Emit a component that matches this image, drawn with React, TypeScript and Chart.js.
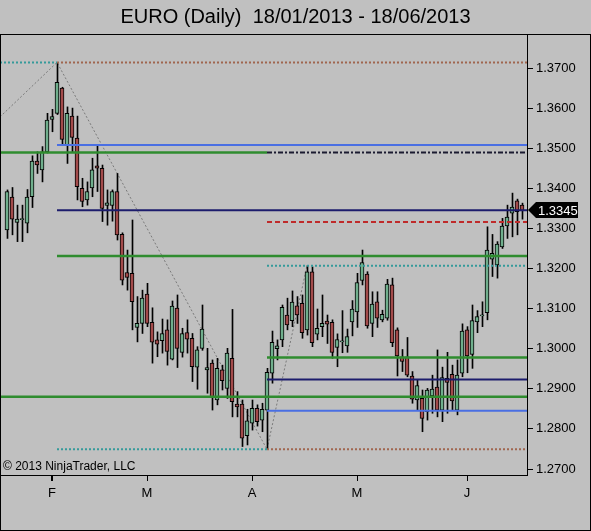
import React, { useEffect, useRef } from "react";
import { Chart, registerables } from "chart.js";

Chart.register(...registerables);

const chartTitle = "EURO (Daily)  18/01/2013 - 18/06/2013";
const copyrightText = "© 2013 NinjaTrader, LLC";

const monthTickIndex = [9, 28, 49, 70, 92];
const monthTickLabels = ["F", "M", "A", "M", "J"];
const priceTicks = [1.27, 1.28, 1.29, 1.3, 1.31, 1.32, 1.33, 1.34, 1.35, 1.36, 1.37];

const opens = [
  1.3296, 1.3378, 1.3315, 1.3322, 1.3313, 1.3379, 1.3468, 1.3446, 1.3491, 1.3572,
  1.3587, 1.365, 1.3508, 1.358, 1.3525, 1.34, 1.3371, 1.3401, 1.3456, 1.345,
  1.3357, 1.3357, 1.3392, 1.3285, 1.319, 1.3188, 1.3053, 1.3063, 1.3136, 1.3066,
  1.3022, 1.302, 1.3047, 1.2974, 1.3101, 1.2991, 1.304, 1.3026, 1.2954, 1.3001,
  1.2947, 1.2964, 1.2872, 1.2947, 1.2901, 1.2976, 1.2862, 1.2862, 1.2783, 1.2814,
  1.2851, 1.2822, 1.2847, 1.2939, 1.3, 1.3022, 1.3084, 1.307, 1.3107, 1.3113,
  1.3047, 1.3192, 1.3036, 1.3055, 1.3069, 1.3066, 1.3003, 1.3017, 1.3007, 1.3067,
  1.3092, 1.317, 1.3186, 1.3063, 1.3117, 1.3072, 1.3076, 1.3159, 1.3047, 1.298,
  1.298, 1.2932, 1.2872, 1.2876, 1.2843, 1.2882, 1.2904, 1.2847, 1.2926, 1.2936,
  1.2847, 1.2939, 1.3047, 1.2986, 1.3067, 1.3082, 1.309, 1.3223, 1.3209, 1.3254,
  1.3306, 1.3338, 1.3369, 1.3358,
];
const highs = [
  1.3396, 1.3402, 1.3358, 1.3358, 1.3397, 1.3481, 1.3491, 1.3504, 1.3587, 1.3597,
  1.3714, 1.3652, 1.3603, 1.36, 1.358, 1.3425, 1.3416, 1.3475, 1.3508, 1.3458,
  1.3396, 1.3396, 1.3437, 1.3289, 1.3246, 1.3321, 1.313, 1.3146, 1.3163, 1.3102,
  1.3042, 1.3074, 1.3072, 1.3119, 1.3134, 1.3051, 1.3072, 1.3038, 1.3005, 1.3109,
  1.3001, 1.2972, 1.2976, 1.2959, 1.3001, 1.3098, 1.2893, 1.2872, 1.2849, 1.2872,
  1.286, 1.2864, 1.2951, 1.3044, 1.3022, 1.3109, 1.3126, 1.3144, 1.313, 1.3134,
  1.3207, 1.3204, 1.3099, 1.3134, 1.3084, 1.3072, 1.3037, 1.3095, 1.3049, 1.312,
  1.3188, 1.3246, 1.3192, 1.3142, 1.3142, 1.3096, 1.3173, 1.3176, 1.3052, 1.2998,
  1.3028, 1.2943, 1.2922, 1.2897, 1.2901, 1.2934, 1.2997, 1.2954, 1.2991, 1.2959,
  1.2972, 1.3062, 1.3055, 1.3109, 1.3095, 1.3117, 1.3304, 1.3285, 1.3267, 1.3325,
  1.3358, 1.3388, 1.3373, 1.3363,
];
const lows = [
  1.3275, 1.3284, 1.3267, 1.3267, 1.3289, 1.3352, 1.3437, 1.3416, 1.3488, 1.3541,
  1.3584, 1.3508, 1.3462, 1.3491, 1.3371, 1.3354, 1.3358, 1.3379, 1.3392, 1.3317,
  1.3308, 1.3318, 1.3271, 1.3159, 1.3146, 1.3047, 1.3017, 1.3038, 1.3055, 1.2964,
  1.298, 1.2989, 1.2959, 1.2972, 1.2953, 1.2979, 1.2989, 1.2918, 1.2899, 1.2996,
  1.2889, 1.2847, 1.286, 1.2897, 1.2876, 1.283, 1.283, 1.2756, 1.276, 1.2797,
  1.2807, 1.2793, 1.2749, 1.2914, 1.2972, 1.3005, 1.3047, 1.3055, 1.3063, 1.3026,
  1.3034, 1.3005, 1.3022, 1.303, 1.3013, 1.2976, 1.2955, 1.299, 1.2991, 1.3032,
  1.3053, 1.3159, 1.3051, 1.303, 1.3053, 1.3067, 1.3071, 1.3005, 1.2932, 1.2943,
  1.293, 1.2864, 1.2847, 1.2793, 1.2822, 1.2839, 1.283, 1.2818, 1.2839, 1.2847,
  1.2835, 1.293, 1.294, 1.2951, 1.304, 1.3055, 1.3072, 1.318, 1.3176, 1.325,
  1.3275, 1.3279, 1.3284, 1.3323,
];
const closes = [
  1.3392, 1.3323, 1.3323, 1.3323, 1.3378, 1.3468, 1.3458, 1.3491, 1.357, 1.3579,
  1.3664, 1.3522, 1.3587, 1.3527, 1.3404, 1.3367, 1.3392, 1.3446, 1.345, 1.335,
  1.3364, 1.3392, 1.3284, 1.3171, 1.3178, 1.3117, 1.3063, 1.3126, 1.3063, 1.3016,
  1.3011, 1.3038, 1.2993, 1.3106, 1.3001, 1.3038, 1.3024, 1.2955, 1.2997, 1.3049,
  1.2953, 1.288, 1.2951, 1.292, 1.2989, 1.2868, 1.2855, 1.2777, 1.282, 1.2851,
  1.2818, 1.2849, 1.2941, 1.3016, 1.3007, 1.3103, 1.3059, 1.3116, 1.3084, 1.304,
  1.3192, 1.3015, 1.3051, 1.3063, 1.3061, 1.2991, 1.3023, 1.3018, 1.303, 1.3099,
  1.3165, 1.3215, 1.3057, 1.3111, 1.3076, 1.3086, 1.3161, 1.3015, 1.2982, 1.2968,
  1.2934, 1.2874, 1.2908, 1.2826, 1.2897, 1.2899, 1.2847, 1.2928, 1.2916, 1.287,
  1.2934, 1.3044, 1.2982, 1.307, 1.308, 1.3083, 1.3246, 1.3238, 1.3261, 1.3306,
  1.3328, 1.3353, 1.3342, 1.3345,
];

// Horizontal levels drawn on the chart: price, first bar index, last bar index
const levelPrices = [1.3714, 1.3714, 1.3508, 1.3489, 1.3489, 1.3345, 1.3316, 1.3231, 1.3207, 1.2978, 1.2923, 1.288, 1.2845, 1.2749, 1.2749];
const levelFrom = [-1.4, 10, 10, -1.4, 52, 10, 52, 10, 52, 52, 52, -1.4, 52, 10, 52];
const levelTo = [10, 104, 104, 52, 104, 104, 104, 104, 104, 104, 104, 104, 104, 52, 104];

// Zig-zag swing line
const zigzagIndex = [-1.4, 10, 52, 60];
const zigzagPrice = [1.3578, 1.3714, 1.2749, 1.3207];

const FONT = "'Liberation Sans', Arial, sans-serif";
const TEAL = "#359a9a";
const BROWN = "#a0664f";
const BLUE = "#4a6fe3";
const NAVY = "#1c1c6c";
const GREEN = "#2f8c2f";
const RED = "#bf2a2a";
const levelStyles = [
  { color: TEAL, width: 2, dash: [2, 2] },
  { color: BROWN, width: 2, dash: [2, 2] },
  { color: BLUE, width: 2, dash: [] },
  { color: GREEN, width: 2.5, dash: [] },
  { color: "#1a1a30", width: 2, dash: [5, 2, 2, 2] },
  { color: NAVY, width: 2, dash: [] },
  { color: RED, width: 2, dash: [5, 3] },
  { color: GREEN, width: 2.5, dash: [] },
  { color: TEAL, width: 2, dash: [2, 2] },
  { color: GREEN, width: 2.5, dash: [] },
  { color: NAVY, width: 2, dash: [] },
  { color: GREEN, width: 2.5, dash: [] },
  { color: BLUE, width: 2, dash: [] },
  { color: TEAL, width: 2, dash: [2, 2] },
  { color: BROWN, width: 2, dash: [2, 2] },
];

const decorPlugin = {
  id: "decor",
  afterDraw(chart: any) {
    const { ctx, chartArea, scales } = chart;
    ctx.save();
    ctx.strokeStyle = "#000";
    ctx.lineWidth = 1;
    ctx.strokeRect(0.5, chartArea.top + 0.5, chart.width - 1, chart.height - chartArea.top - 1);
    // month tick marks under the time axis
    ctx.beginPath();
    monthTickIndex.forEach((v) => {
      const px = Math.round(scales.x.getPixelForValue(v)) + 0.5;
      ctx.moveTo(px, chartArea.bottom);
      ctx.lineTo(px, chartArea.bottom + 6);
    });
    ctx.stroke();
    ctx.font = `12px ${FONT}`;
    ctx.fillStyle = "#000";
    ctx.textAlign = "left";
    ctx.textBaseline = "middle";
    ctx.fillText(copyrightText, chartArea.left + 3, chartArea.bottom - 8);
    const last = closes[closes.length - 1];
    const y = Math.round(scales.y.getPixelForValue(last));
    const x0 = chartArea.right + 1;
    ctx.beginPath();
    ctx.moveTo(x0, y);
    ctx.lineTo(x0 + 8, y - 8);
    ctx.lineTo(x0 + 50, y - 8);
    ctx.lineTo(x0 + 50, y + 8);
    ctx.lineTo(x0 + 8, y + 8);
    ctx.closePath();
    ctx.fillStyle = "#000";
    ctx.fill();
    ctx.fillStyle = "#fff";
    ctx.font = `13px ${FONT}`;
    ctx.fillText(last.toFixed(4), x0 + 10, y + 1);
    ctx.restore();
  },
};

export default function App() {
  const ref = useRef<HTMLCanvasElement | null>(null);
  useEffect(() => {
    if (!ref.current) return;
    const bodyColors = opens.map((o, i) => (closes[i] >= o ? "#6fae8c" : "#a34b4b"));
    const lineSets = levelPrices.map((p, k) => ({
      type: "line" as const,
      data: [
        { x: levelFrom[k], y: p },
        { x: levelTo[k], y: p },
      ],
      xAxisID: "x",
      borderColor: levelStyles[k].color,
      borderWidth: levelStyles[k].width,
      borderDash: levelStyles[k].dash,
      pointRadius: 0,
      fill: false,
      tension: 0,
      order: 0,
    }));
    const chart = new Chart(ref.current, {
      type: "bar",
      data: {
        datasets: [
          {
            type: "line",
            data: zigzagIndex.map((x, k) => ({ x, y: zigzagPrice[k] })),
            xAxisID: "x",
            borderColor: "#7a7a7a",
            borderWidth: 1,
            borderDash: [2, 2],
            pointRadius: 0,
            fill: false,
            order: 3,
          } as any,
          {
            type: "bar",
            data: highs.map((h, i) => ({ x: i, y: [lows[i], h] })),
            xAxisID: "xw",
            backgroundColor: "#000",
            borderWidth: 0,
            barThickness: 1,
            grouped: false,
            order: 2,
          } as any,
          {
            type: "bar",
            data: opens.map((o, i) => ({ x: i, y: [o, closes[i]] })),
            xAxisID: "x",
            backgroundColor: bodyColors,
            borderColor: "#000",
            borderWidth: 1,
            borderSkipped: false,
            barThickness: 4,
            minBarLength: 1,
            grouped: false,
            order: 1,
          } as any,
          ...(lineSets as any[]),
        ],
      },
      options: {
        animation: false,
        responsive: false,
        devicePixelRatio: 1,
        layout: { padding: 0 },
        plugins: {
          legend: { display: false },
          tooltip: { enabled: false },
          title: {
            display: true,
            text: chartTitle,
            color: "#000",
            font: { family: FONT, size: 20, weight: "normal" },
            padding: { top: 5, bottom: 5 },
          },
        },
        scales: {
          x: {
            type: "linear",
            min: -1.4,
            max: 104,
            offset: false,
            grid: { offset: false, drawOnChartArea: false, drawTicks: true, tickLength: 6, color: "#000" },
            border: { display: true, color: "#000" },
            ticks: {
              autoSkip: false,
              maxRotation: 0,
              color: "#000",
              padding: 5,
              font: { family: FONT, size: 13 },
              callback: (v: any) => {
                const k = monthTickIndex.indexOf(Number(v));
                return k >= 0 ? monthTickLabels[k] : "";
              },
            },
            afterBuildTicks: (s: any) => {
              s.ticks = monthTickIndex.map((v) => ({ value: v }));
            },
            afterFit: (s: any) => {
              s.height = 56;
            },
          },
          xw: {
            type: "linear",
            min: -1.5,
            max: 103.9,
            offset: false,
            display: false,
          },
          y: {
            position: "right",
            min: 1.268504,
            max: 1.378479,
            grid: { offset: false, drawOnChartArea: false, drawTicks: true, tickLength: 6, color: "#000" },
            border: { display: true, color: "#000" },
            ticks: {
              color: "#000",
              padding: 3,
              font: { family: FONT, size: 13 },
              callback: (v: any) => Number(v).toFixed(4),
            },
            afterBuildTicks: (s: any) => {
              s.ticks = priceTicks.map((v) => ({ value: v }));
            },
            afterFit: (s: any) => {
              s.width = 64;
            },
          },
        },
      } as any,
      plugins: [decorPlugin],
    });
    return () => chart.destroy();
  }, []);
  return (
    <div style={{ position: "fixed", left: 0, top: 0, width: 591, height: 531, background: "#c0c0c0" }}>
      <canvas ref={ref} width={591} height={531} style={{ display: "block" }} />
    </div>
  );
}
